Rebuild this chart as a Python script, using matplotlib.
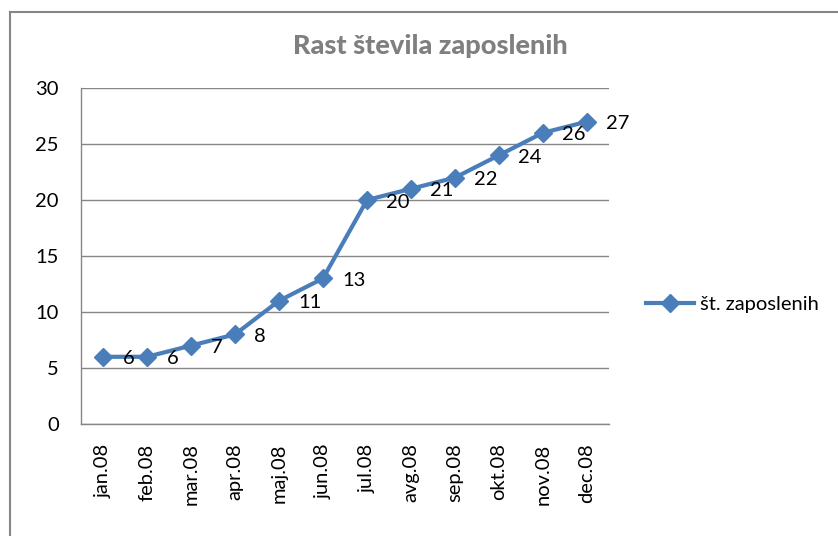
import matplotlib
matplotlib.use("Agg")
import matplotlib.pyplot as plt
from matplotlib.lines import Line2D

months = ["jan.08", "feb.08", "mar.08", "apr.08", "maj.08", "jun.08",
          "jul.08", "avg.08", "sep.08", "okt.08", "nov.08", "dec.08"]
employees = [6, 6, 7, 8, 11, 13, 20, 21, 22, 24, 26, 27]
series_name = "št. zaposlenih"
title = "Rast števila zaposlenih"
yticks = [0, 5, 10, 15, 20, 25, 30]

plt.rcParams['font.family'] = ['Lato', 'DejaVu Sans']
W, H = 838, 536
fig = plt.figure(figsize=(W / 100, H / 100), dpi=100)
fig.patch.set_facecolor("white")

blue = "#4A7EBB"
gray = "#868686"

ax = fig.add_axes([81 / W, 1 - 424 / H, (609 - 81) / W, (424 - 88) / H])
x = list(range(len(months)))
ax.plot(x, employees, color=blue, lw=3.0, marker="D", markersize=9,
        markerfacecolor=blue, markeredgecolor=blue, solid_joinstyle="round")
for xi, v in zip(x, employees):
    ax.annotate(str(v), (xi, v), xytext=(14, -1.5), textcoords="offset points",
                ha="left", va="center", fontsize=14.5, color="black")

ax.set_xlim(-0.5, len(months) - 0.5)
ax.set_ylim(0, 30)
ax.set_yticks(yticks)
ax.set_yticklabels([str(t) for t in yticks], fontsize=14.5)
ax.set_xticks(x)
ax.set_xticklabels(months, rotation=90, fontsize=14.5)
ax.tick_params(axis="y", length=0, pad=16)
ax.tick_params(axis="x", length=0, pad=14)
ax.yaxis.grid(True, color=gray, lw=1)
ax.set_axisbelow(True)
for s in ["top", "right"]:
    ax.spines[s].set_visible(False)
for s in ["left", "bottom"]:
    ax.spines[s].set_color(gray)
    ax.spines[s].set_linewidth(1)

fig.text(430 / W, 1 - 46 / H, title, ha="center", va="center",
         fontsize=19.5, fontweight="black", color="#7F7F7F")

# legend
handle = Line2D([0], [0], color=blue, lw=3.0, marker="D", markersize=9)
fig.legend([handle], [series_name], loc="center left",
           bbox_to_anchor=(636 / W, 1 - 304 / H), frameon=False,
           fontsize=14.5, handlelength=2.4, handletextpad=0.3, borderpad=0)

# chart border (top and left visible)
fig.add_artist(Line2D([10 / W, 10 / W], [0, 1 - 12 / H], color=gray, lw=1.5,
                      transform=fig.transFigure))
fig.add_artist(Line2D([10 / W, 1], [1 - 12 / H, 1 - 12 / H], color=gray, lw=1.5,
                      transform=fig.transFigure))

fig.savefig("out.png", dpi=100, facecolor="white")
